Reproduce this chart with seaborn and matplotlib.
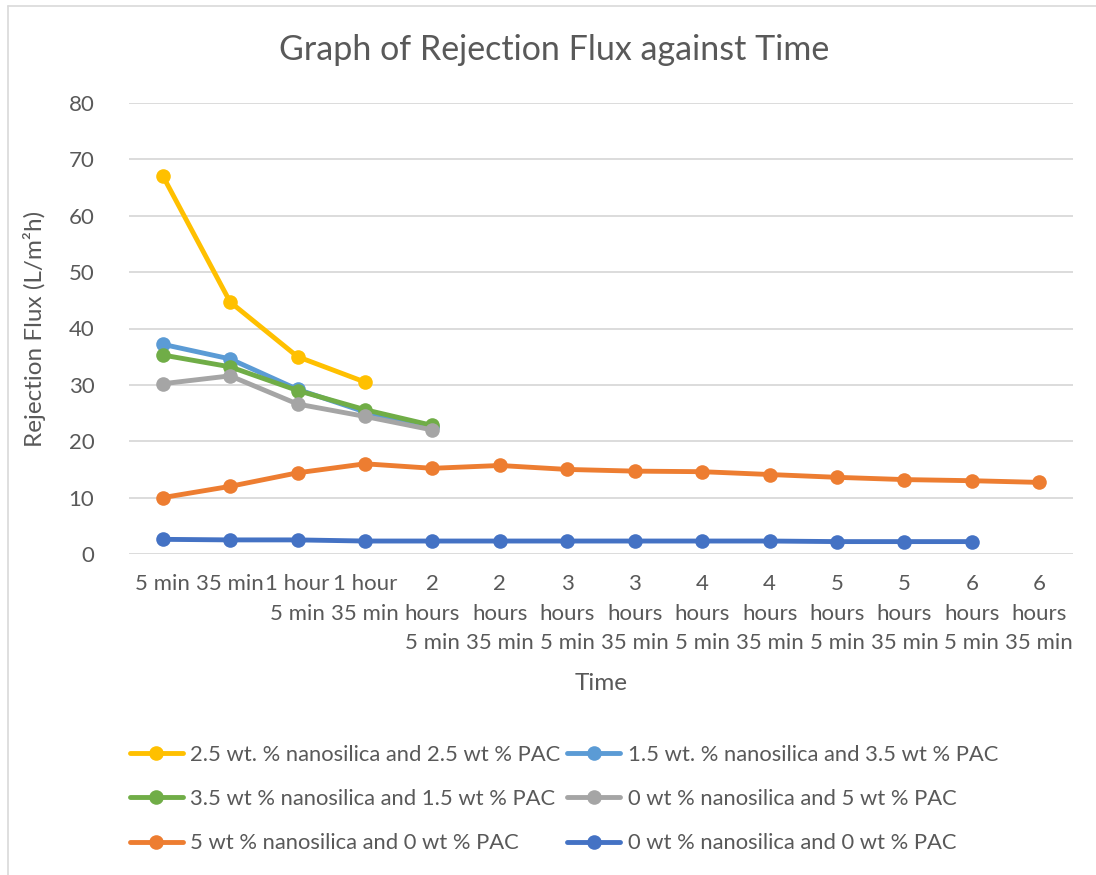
import numpy as np
import pandas as pd
import matplotlib
matplotlib.use("Agg")
import matplotlib.pyplot as plt
import seaborn as sns
from matplotlib.lines import Line2D

# ---- data ----
time_labels = ["5 min", "35 min", "1 hour\n5 min", "1 hour\n35 min",
               "2\nhours\n5 min", "2\nhours\n35 min", "3\nhours\n5 min", "3\nhours\n35 min",
               "4\nhours\n5 min", "4\nhours\n35 min", "5\nhours\n5 min", "5\nhours\n35 min",
               "6\nhours\n5 min", "6\nhours\n35 min"]

series_names = ["2.5 wt. % nanosilica and 2.5 wt % PAC",
                "1.5 wt. % nanosilica and 3.5 wt % PAC",
                "3.5 wt % nanosilica and 1.5 wt % PAC",
                "0 wt % nanosilica and 5 wt % PAC",
                "5 wt % nanosilica and 0 wt % PAC",
                "0 wt % nanosilica and 0 wt % PAC"]

flux_25_25 = [67.1, 44.7, 35.0, 30.5]
flux_15_35 = [37.2, 34.6, 29.2, 25.2, 22.5]
flux_35_15 = [35.3, 33.2, 29.0, 25.6, 22.8]
flux_0_5 = [30.2, 31.6, 26.6, 24.4, 22.0]
flux_5_0 = [10.0, 12.0, 14.4, 16.0, 15.2, 15.7, 15.0, 14.7, 14.6, 14.1, 13.6, 13.2, 13.0, 12.7]
flux_0_0 = [2.6, 2.5, 2.5, 2.3, 2.3, 2.3, 2.3, 2.3, 2.3, 2.3, 2.2, 2.2, 2.2]

colors = ["#FFC000", "#5B9BD5", "#70AD47", "#A5A5A5", "#ED7D31", "#4472C4"]

all_series = [flux_25_25, flux_15_35, flux_35_15, flux_0_5, flux_5_0, flux_0_0]

rows = []
for name, vals in zip(series_names, all_series):
    for i, v in enumerate(vals):
        rows.append({"series": name, "idx": i, "flux": v})
df = pd.DataFrame(rows)

sns.set_theme(style="white")
plt.rcParams["font.family"] = ["Lato", "DejaVu Sans"]
text_color = "#595959"

fig = plt.figure(figsize=(10.96, 8.75), dpi=100)
ax = fig.add_axes([129 / 1096, 1 - 554 / 875, (1073 - 129) / 1096, (554 - 103) / 875])

LW = 3.5
MS = 10.5
for name, col in zip(series_names, colors):
    sub = df[df["series"] == name]
    sns.lineplot(data=sub, x="idx", y="flux", ax=ax, color=col, linewidth=LW,
                 marker="o", markersize=MS, markeredgewidth=0, sort=False,
                 label=name, legend=False)

ax.set_xlim(-0.5, len(time_labels) - 0.5)
ax.set_ylim(0, 80)
ax.set_yticks(np.arange(0, 81, 10))
ax.set_xticks(np.arange(len(time_labels)))
ax.set_xticklabels(time_labels, linespacing=1.6)
ax.grid(axis="y", color="#D9D9D9", linewidth=1.3)
ax.grid(axis="x", visible=False)
for s in ax.spines.values():
    s.set_visible(False)
ax.tick_params(axis="both", length=0, labelsize=16, colors=text_color)
ax.tick_params(axis="y", pad=25)
ax.tick_params(axis="x", pad=14.5)
ax.set_axisbelow(True)

ax.set_xlabel("Time", fontsize=17.5, color=text_color, labelpad=14.5)
ax.set_ylabel("Rejection Flux (L/m²h)", fontsize=17.5, color=text_color, labelpad=16)

fig.suptitle("Graph of Rejection Flux against Time", fontsize=24.5, color=text_color,
             x=0.506, y=1 - 50 / 875, va="center")

# legend, row-major like the original
handles = [Line2D([0], [0], color=c, linewidth=LW, marker="o", markersize=MS,
                  markeredgewidth=0) for c in colors]
order = [0, 2, 4, 1, 3, 5]
leg = fig.legend([handles[i] for i in order], [series_names[i] for i in order],
                 ncol=2, loc="upper left", bbox_to_anchor=(130 / 1096, 1 - 745 / 875),
                 frameon=False, fontsize=15.8, labelcolor=text_color,
                 handlelength=2.4, handletextpad=0.35, columnspacing=0.3,
                 labelspacing=1.1, borderaxespad=0, borderpad=0)

# chart border (left and top visible in the original)
fig.add_artist(Line2D([8 / 1096, 8 / 1096], [0, 1 - 6 / 875], transform=fig.transFigure,
                      color="#D9D9D9", linewidth=1.2))
fig.add_artist(Line2D([8 / 1096, 1], [1 - 6 / 875, 1 - 6 / 875], transform=fig.transFigure,
                      color="#D9D9D9", linewidth=1.2))

fig.savefig("out.png", dpi=100, facecolor="white")
